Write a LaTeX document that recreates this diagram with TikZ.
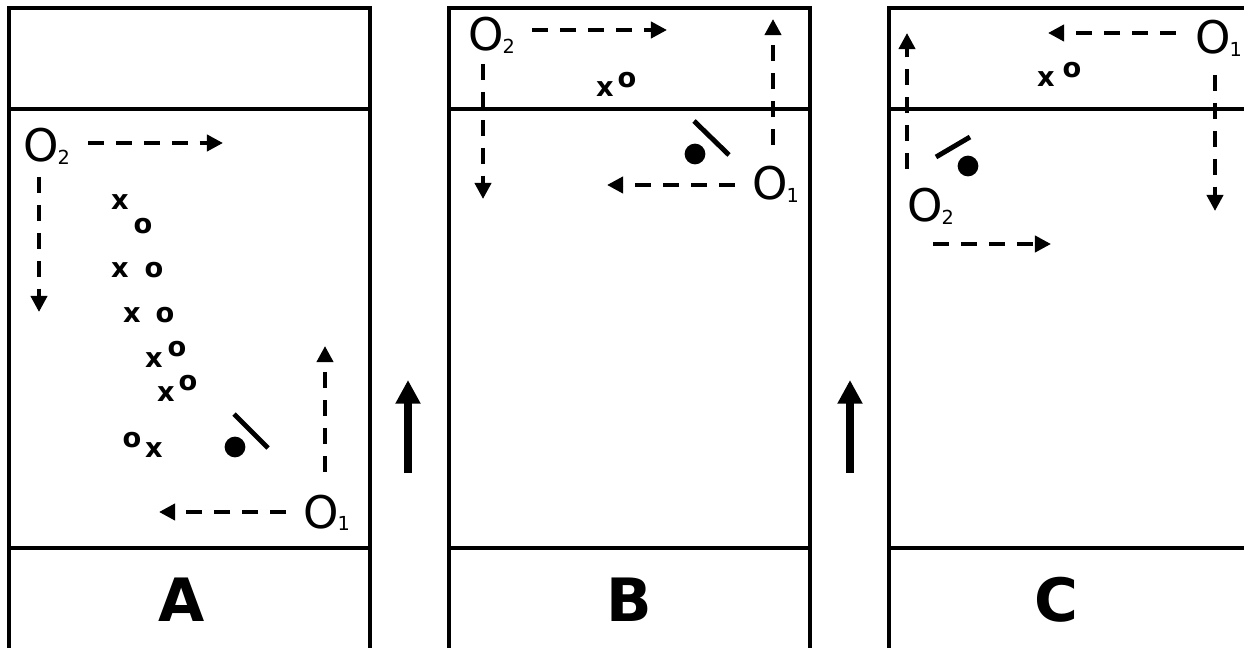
\documentclass[tikz,border=0pt]{standalone}
\usepackage{fontspec}
\setmainfont{DejaVu Sans}
\usetikzlibrary{arrows.meta}

\newcommand{\obsname}[1]{O\kern-0.6pt\raisebox{-1.2pt}{\fontsize{11}{12}\selectfont #1}}

\tikzset{
    panelline/.style={line width=1.9pt},
    flowarrow/.style={line width=2.2pt,dash pattern=on 9.1pt off 6.8pt,-{Triangle[length=9.2pt,width=9.2pt]}},
    motionarrow/.style={line width=4.6pt,-{Triangle[length=13.5pt,width=13.5pt]}},
    obslabel/.style={anchor=base west,inner sep=0pt,font=\fontsize{25.6}{26}\selectfont},
    marklabel/.style={inner sep=0pt,font=\fontsize{15.5}{16}\selectfont\bfseries},
    panelletter/.style={inner sep=0pt,font=\fontsize{34}{35}\selectfont\bfseries},
    mirrorbar/.style={line width=2.8pt},
    beamdot/.style={circle,fill=black,inner sep=0pt,minimum size=11.8pt}
}

\begin{document}
\begin{tikzpicture}[x=0.02cm,y=-0.02cm]

    \clip (0,0) rectangle (1244,648);

    % Three panels, open at the bottom
    \foreach \px/\lab/\lx in {9/A/182,449/B/629,889/C/1056} {
        \draw [panelline] (\px,660) -- (\px,8) -- (\px+361,8) -- (\px+361,660);
        \draw [panelline] (\px,109) -- (\px+361,109);
        \draw [panelline] (\px,548) -- (\px+361,548);
        \node [panelletter] (letter\lab) at (\lx,600) {\lab};
    }

    % Observer labels
    \foreach \nm/\num/\x/\y in {
    aone/1/303/528,
    atwo/2/23/162,
    bone/1/752/200,
    btwo/2/468/51,
    cone/1/1195/54,
    ctwo/2/907/222} {
        \node [obslabel] (\nm) at (\x,\y) {\obsname{\num}};
    }

    % Free ends of the dashed arrows
    \foreach \nm/\x/\y in {
    aoneh/159/512, aonev/325/346,
    atwoh/223/143, atwov/39/312,
    boneh/607/185, bonev/773/19,
    btwoh/667/30, btwov/483/199,
    coneh/1048/33, conev/1215/211,
    ctwoh/1051/244, ctwov/907/33} {
        \coordinate (\nm) at (\x,\y);
    }

    % Dashed arrows, each leaving its observer label
    \foreach \nm/\dxh/\dyh/\dxv/\dyv in {
    aone/-17/-16/22/-56,
    atwo/65/-19/16/15,
    bone/-17/-15/21/-55,
    btwo/64/-21/15/13,
    cone/-19/-21/20/21,
    ctwo/26/22/0/-53} {
        \draw [flowarrow] ([shift={(\dxh,\dyh)}]\nm.base west) -- (\nm h);
        \draw [flowarrow] ([shift={(\dxv,\dyv)}]\nm.base west) -- (\nm v);
    }

    % Marks x and o
    \foreach \i/\x/\y/\lab in {
    1/120/202/x, 2/143/226/o, 3/120/270/x, 4/154/270/o,
    5/132/315/x, 6/165/315/o, 7/154/360/x, 8/177/349/o,
    9/166/394/x, 10/188/383/o, 11/154/450/x, 12/132/440/o,
    13/605/89/x, 14/627/80/o, 15/1046/79/x, 16/1072/70/o} {
        \node [marklabel] (mark\i) at (\x,\y) {\lab};
    }

    % Dot and bar in each panel
    \foreach \nm/\x/\y/\ax/\ay/\bx/\by in {
    a/235/447/234/414/268/448,
    b/695/154/694/121/729/155,
    c/968/166/936/157/970/137} {
        \node [beamdot] (dot\nm) at (\x,\y) {};
        \draw [mirrorbar] (\ax,\ay) -- (\bx,\by);
    }

    % Motion arrows between panels
    \foreach \nm/\x in {ab/408,bc/850} {
        \coordinate (foot\nm) at (\x,473);
        \coordinate (head\nm) at (\x,380);
        \draw [motionarrow] (foot\nm) -- (head\nm);
    }

\end{tikzpicture}
\end{document}
